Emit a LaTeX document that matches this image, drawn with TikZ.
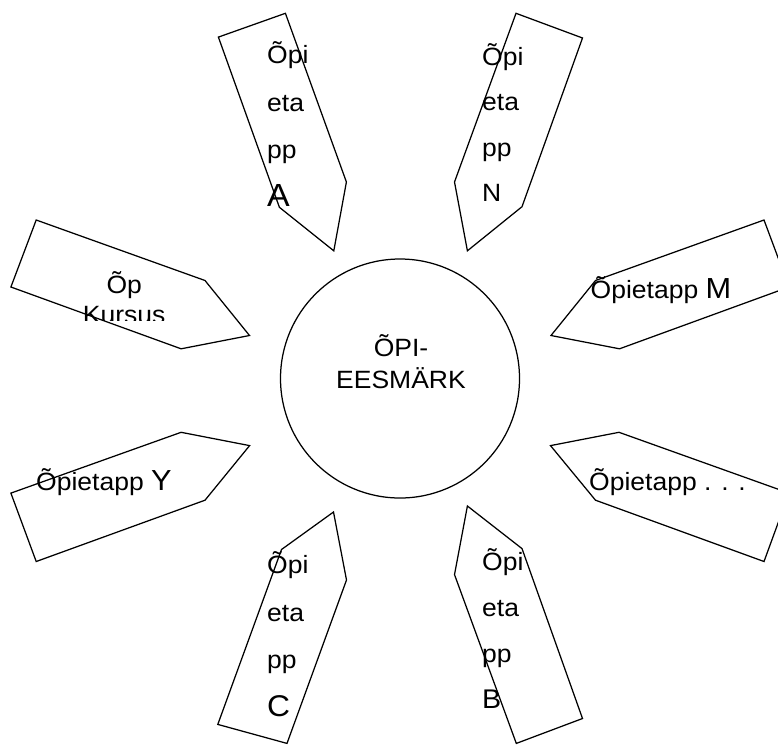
\documentclass[tikz,border=0pt]{standalone}
\usepackage{fontspec}
\setmainfont{Liberation Sans}[FakeStretch=1.06]
\begin{document}
\begin{tikzpicture}[x=1pt,y=-1pt,
  signpost/.style={draw=black, line width=1.25pt, line join=miter},
  stagetext/.style={inner sep=0pt, align=left, anchor=base west,
                    font=\fontsize{25}{#1}\selectfont},
  rowtext/.style={inner sep=0pt, anchor=base west, font=\fontsize{25}{29}\selectfont}]
\useasboundingbox (0,0) rectangle (778,745);
\clip (0,0) rectangle (778,745);

% central goal (multi-line nodes are placed by the baseline of their last line)
\node[draw, circle, line width=1.25pt, minimum size=239pt, inner sep=0pt] (goal) at (400,378.5) {};
\node[inner sep=0pt, align=center, anchor=base, font=\fontsize{25}{31.6}\selectfont]
  (goaltext) at (401,388.3) {ÕPI-\\EESMÄRK};

% signposts pointing at the goal
\draw[signpost] (218.4,37.1) -- (285.4,13.3) -- (346.4,182) -- (333.8,250.8) -- (279.4,207.3) -- cycle;
\draw[signpost] (516,13.3) -- (582.5,38) -- (522,206.7) -- (467.4,250.8) -- (454.5,182) -- cycle;
\draw[signpost] (36.2,220) -- (205,280.5) -- (249.5,335.5) -- (181.1,348.8) -- (10.9,287) -- cycle;
\draw[signpost] (764,220) -- (789,287) -- (619.5,348.8) -- (551,335.5) -- (595.5,280.5) -- cycle;
\draw[signpost] (181.1,432.3) -- (249.6,445.6) -- (205,500.2) -- (36.2,561.5) -- (10.9,493.1) -- cycle;
\draw[signpost] (619,432.3) -- (550.5,445.6) -- (595.5,500.2) -- (764,561.5) -- (789,493.1) -- cycle;
\draw[signpost] (333.5,512) -- (346.5,580) -- (287,743.4) -- (217.8,724.4) -- (281.5,549.5) -- cycle;
\draw[signpost] (467.4,506) -- (522,548.6) -- (582.5,718.5) -- (516.3,743.4) -- (454.5,574.6) -- cycle;

% signpost labels
\node[stagetext=47.8] (stageA) at (267,206.7) {Õpi\\eta\\pp\\{\fontsize{32}{32}\selectfont A}};
\node[stagetext=45.6] (stageN) at (482,201.8) {Õpi\\eta\\pp\\N};
\node[stagetext=47.8] (stageC) at (267,716.7) {Õpi\\eta\\pp\\{\fontsize{30}{30}\selectfont C}};
\node[stagetext=46.1] (stageB) at (482,708.3) {Õpi\\eta\\pp\\{\fontsize{27}{27}\selectfont B}};
\node[rowtext] (stageM) at (590.5,298.3) {Õpietapp {\fontsize{29}{29}\selectfont M}};
\node[rowtext] (stageY) at (36,490) {Õpietapp {\fontsize{29}{29}\selectfont Y}};
\node[rowtext] (stageDots) at (589,490) {Õpietapp . . .};
\begin{scope}
  \clip (60,250) rectangle (200,320.6);
  \node[inner sep=0pt, align=center, anchor=base, font=\fontsize{25}{30.4}\selectfont]
    (course) at (124.2,323.7) {Õp\\Kursus};
\end{scope}
\end{tikzpicture}
\end{document}
